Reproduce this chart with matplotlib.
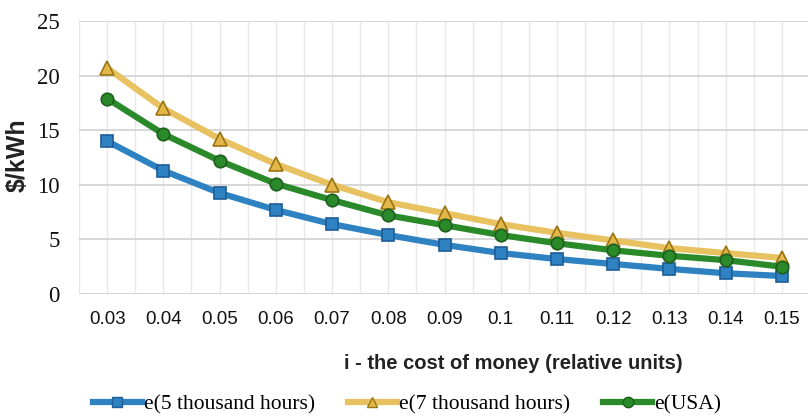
import matplotlib
matplotlib.use("Agg")
import matplotlib.pyplot as plt
from matplotlib.lines import Line2D

# cost of money and specific energy cost, $/kWh
rates = ["0.03", "0.04", "0.05", "0.06", "0.07", "0.08", "0.09",
         "0.1", "0.11", "0.12", "0.13", "0.14", "0.15"]
e_5k = [14.0, 11.3, 9.25, 7.7, 6.4, 5.4, 4.5, 3.75, 3.2, 2.75, 2.3, 1.9, 1.65]
e_7k = [20.7, 17.0, 14.2, 11.9, 10.0, 8.4, 7.4, 6.4, 5.6, 4.9, 4.2, 3.75, 3.3]
e_usa = [17.9, 14.65, 12.2, 10.1, 8.6, 7.2, 6.3, 5.4, 4.65, 4.0, 3.5, 3.1, 2.5]
labels = ["e(5 thousand hours)", "e(7 thousand hours)", "e(USA)"]

SERIF = ["Liberation Serif", "DejaVu Serif"]
SANS = ["Liberation Sans Narrow", "Liberation Sans", "DejaVu Sans"]

W, H = 808, 419
fig = plt.figure(figsize=(W / 100, H / 100), dpi=100)
ax = fig.add_axes([79 / W, 1 - 294 / H, 731 / W, 273 / H])

x = list(range(len(rates)))
styles = [
    (e_5k, "#2E82C2", "s", "#2E82C2", "#1D5C96", 9),
    (e_7k, "#E8C160", "^", "#E3B64A", "#9A7512", 10),
    (e_usa, "#2A8A2A", "o", "#2A8A2A", "#1E5E1E", 9),
]
handles = []
for (vals, lc, mk, fc, ec, ms), lab in zip(styles, labels):
    ax.plot(x, vals, color=lc, lw=4.5, marker=mk, ms=ms, mfc=fc, mec=ec,
            mew=1.2, zorder=3, solid_capstyle="round")
    handles.append(Line2D([], [], color=lc, lw=4.5, marker=mk, ms=7.5,
                          mfc=fc, mec=ec, mew=1.0, label=lab))

ax.set_xlim(-0.5, len(rates) - 0.5)
ax.set_ylim(0, 25)
ax.set_yticks([0, 5, 10, 15, 20, 25])
ax.set_xticks(x)
ax.set_xticklabels(rates)

# horizontal major grid, vertical grid at every half category
ax.grid(axis="y", color="#d4d4d4", lw=1.3, zorder=0)
for v in [i * 0.5 - 0.5 for i in range(2 * len(rates) + 1)]:
    ax.axvline(v, color="#e8e8e8", lw=1.0, zorder=0)

for s in ax.spines.values():
    s.set_visible(False)
ax.tick_params(length=0)
ax.tick_params(axis="x", pad=12)
ax.tick_params(axis="y", pad=14)
for t in ax.get_xticklabels():
    t.set_family(SANS)
    t.set_fontsize(13.5)
    t.set_color("#111111")
for t in ax.get_yticklabels():
    t.set_family(SERIF)
    t.set_fontsize(16.5)
    t.set_color("#111111")

fig.text(18 / W, 1 - 155 / H, "$/kWh", rotation=90, ha="center", va="center",
         family=SANS, fontweight="bold", fontsize=18, color="#222222")
fig.text(513 / W, 1 - 363 / H, "i - the cost of money (relative units)",
         ha="center", va="center", family=SANS, fontweight="bold",
         fontsize=14.5, color="#222222")

fig.legend(handles=handles, loc="center", bbox_to_anchor=(407 / W, 1 - 404 / H),
           ncol=3, frameon=False, prop={"family": SERIF, "size": 15.5},
           handlelength=2.3, columnspacing=1.5, handletextpad=0.1,
           borderaxespad=0, borderpad=0)

fig.savefig("out.png", dpi=100)
